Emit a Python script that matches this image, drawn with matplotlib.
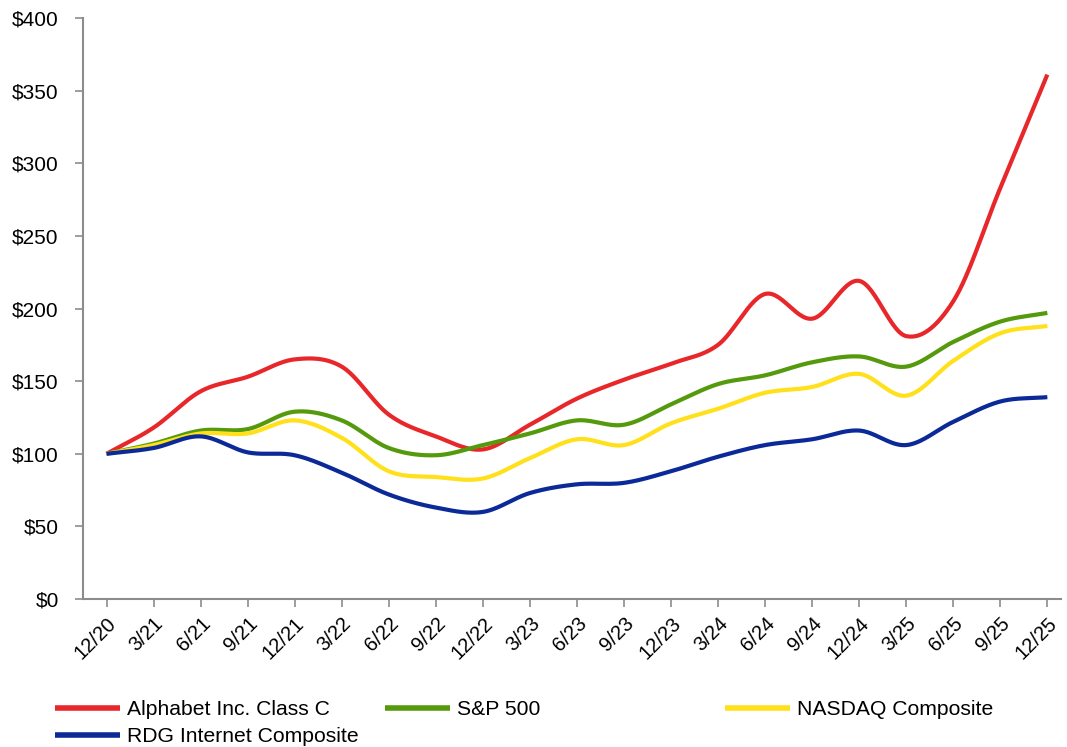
import numpy as np
import matplotlib
matplotlib.use("Agg")
import matplotlib.pyplot as plt

plt.rcParams['font.family'] = ['Liberation Sans', 'DejaVu Sans']

quarters = ["12/20", "3/21", "6/21", "9/21", "12/21", "3/22", "6/22", "9/22", "12/22",
            "3/23", "6/23", "9/23", "12/23", "3/24", "6/24", "9/24", "12/24", "3/25",
            "6/25", "9/25", "12/25"]
alphabet = [100, 118, 143, 153, 165, 160, 127, 112, 103, 120, 138, 151, 162, 175, 210,
            193, 219, 181, 205, 283, 361]
sp500 = [100, 107, 116, 117, 129, 123, 104, 99, 106, 114, 123, 120, 134, 148, 154,
         163, 167, 160, 177, 191, 197]
nasdaq = [100, 106, 114, 114, 123, 111, 88, 84, 83, 97, 110, 106, 121, 131, 142,
          146, 155, 140, 164, 183, 188]
rdg = [100, 104, 112, 101, 99, 87, 72, 63, 60, 73, 79, 80, 88, 98, 106,
       110, 116, 106, 122, 136, 139]

series_names = ["Alphabet Inc. Class C", "S&P 500", "NASDAQ Composite", "RDG Internet Composite"]
colors = ["#E8272B", "#559A0C", "#FFE01B", "#0B2A98"]


def smooth(y, n=30):
    """Catmull-Rom spline through the points (Excel-like smoothed line)."""
    y = np.asarray(y, dtype=float)
    x = np.arange(len(y), dtype=float)
    xp = np.concatenate([[x[0] - 1], x, [x[-1] + 1]])
    yp = np.concatenate([[2 * y[0] - y[1]], y, [2 * y[-1] - y[-2]]])
    xs, ys = [], []
    t = np.linspace(0, 1, n, endpoint=False)

    def cr(a0, a1, a2, a3):
        return 0.5 * ((2 * a1) + (-a0 + a2) * t + (2 * a0 - 5 * a1 + 4 * a2 - a3) * t ** 2
                      + (-a0 + 3 * a1 - 3 * a2 + a3) * t ** 3)
    for i in range(1, len(xp) - 2):
        xs.append(cr(xp[i - 1], xp[i], xp[i + 1], xp[i + 2]))
        ys.append(cr(yp[i - 1], yp[i], yp[i + 1], yp[i + 2]))
    xs.append([x[-1]])
    ys.append([y[-1]])
    return np.concatenate(xs), np.concatenate(ys)


fig = plt.figure(figsize=(10.67, 7.47), dpi=100)
ax = fig.add_axes([0.0778, 0.198, 0.917, 0.778])

handles = []
for data, name, c in zip([alphabet, sp500, nasdaq, rdg], series_names, colors):
    xs, ys = smooth(data)
    h, = ax.plot(xs, ys, color=c, lw=3.0, solid_capstyle='butt', label=name)
    handles.append(h)

ax.set_ylim(0, 400)
ax.set_xlim(-0.5, 20.3)
ax.set_yticks(np.arange(0, 401, 50))
ax.set_yticklabels([f"${v}" for v in range(0, 401, 50)], fontsize=15)
ax.set_xticks(np.arange(len(quarters)))
ax.set_xticklabels(quarters, rotation=45, ha='right', rotation_mode='anchor', fontsize=14.5)

for s in ['top', 'right']:
    ax.spines[s].set_visible(False)
for s in ['left', 'bottom']:
    ax.spines[s].set_color('#8c8c8c')
    ax.spines[s].set_linewidth(1.5)
ax.tick_params(axis='both', colors='#8c8c8c', labelcolor='black', length=5.5, width=1.2)
ax.tick_params(axis='y', pad=12)
ax.tick_params(axis='x', pad=5)

common = dict(frameon=False, fontsize=15.2, handlelength=3.1, handletextpad=0.33,
              borderpad=0, borderaxespad=0, labelspacing=0.4, loc='upper left')
top = 1 - 700 / 747
leg1 = fig.legend([handles[0], handles[3]], [series_names[0], series_names[3]],
                  bbox_to_anchor=(55 / 1067, top), **common)
leg2 = fig.legend([handles[1]], [series_names[1]],
                  bbox_to_anchor=(385 / 1067, top), **common)
leg3 = fig.legend([handles[2]], [series_names[2]],
                  bbox_to_anchor=(725 / 1067, top), **common)
for lg in (leg1, leg2, leg3):
    for ln in lg.get_lines():
        ln.set_linewidth(4)

fig.savefig("out.png", dpi=100)
